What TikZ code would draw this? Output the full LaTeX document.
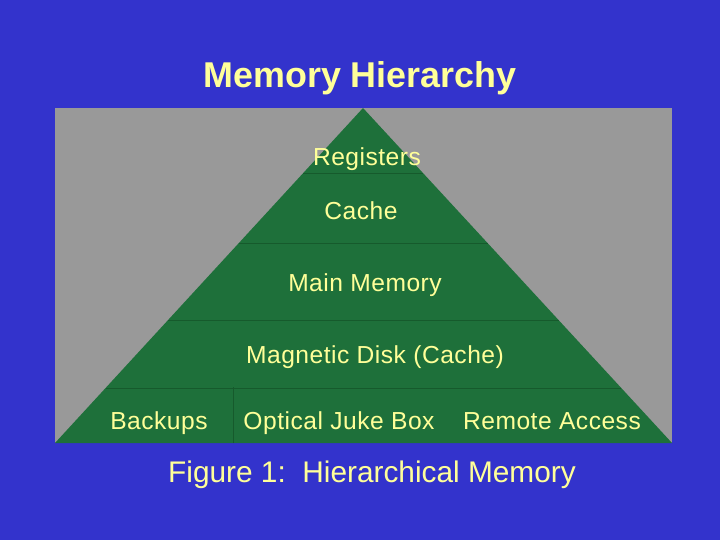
\documentclass[tikz,border=0pt]{standalone}
\usepackage{fontspec}
\setmainfont{Liberation Sans}
\usepackage{xcolor}
\usepackage{tikz}
\usetikzlibrary{calc}
\tikzset{
  layerline/.style={draw=LayerLine, line width=0.6pt},
  layertext/.style={text=TextYellow, font=\fontsize{17.5}{20}\selectfont\addfontfeatures{LetterSpace=2}, inner sep=0pt, anchor=base}
}
\definecolor{SlideBlue}{HTML}{3333CC}
\definecolor{BoxGray}{HTML}{999999}
\definecolor{PyrGreen}{HTML}{1E703A}
\definecolor{LayerLine}{HTML}{165A2C}
\definecolor{TextYellow}{HTML}{FFFF99}

\begin{document}
\begin{tikzpicture}[x=0.025cm, y=-0.025cm]
\fill[SlideBlue] (0,0) rectangle (720,540);
\useasboundingbox (0,0) rectangle (720,540);
\fill[BoxGray] (55,108) rectangle (672,443);
\coordinate (apex) at (363,108);
\coordinate (baseL) at (55,443);
\coordinate (baseR) at (672,443);
\fill[PyrGreen] (apex) -- (baseL) -- (baseR) -- cycle;

% layer dividers
\foreach \t/\n in {0.194/a, 0.403/b, 0.633/c, 0.836/d}{
  \coordinate (L\n) at ($(apex)!\t!(baseL)$);
  \coordinate (R\n) at ($(apex)!\t!(baseR)$);
  \draw[layerline] (L\n) -- (R\n);
}
\coordinate (split) at (233,387);
\coordinate (splitbot) at (233,443);
\draw[layerline] (split) -- (splitbot);

\node[text=TextYellow, font=\fontsize{25.5}{30}\bfseries, inner sep=0pt, anchor=base] (title) at (360,87) {Memory Hierarchy};
\node[layertext] (regs) at (367,165) {Registers};
\node[layertext] (cache) at (361,219) {Cache};
\node[layertext] (mainmem) at (365,291) {Main Memory};
\node[layertext] (disk) at (375,363) {Magnetic Disk (Cache)};
\node[layertext] (backups) at (159,429) {Backups};
\node[layertext] (jukebox) at (339,429) {Optical Juke Box};
\node[layertext] (remote) at (552,429) {Remote Access};
\node[text=TextYellow, font=\fontsize{21.2}{25}\selectfont, inner sep=0pt, anchor=base] (caption) at (372,482) {Figure 1:\ \ Hierarchical Memory};
\end{tikzpicture}
\end{document}
